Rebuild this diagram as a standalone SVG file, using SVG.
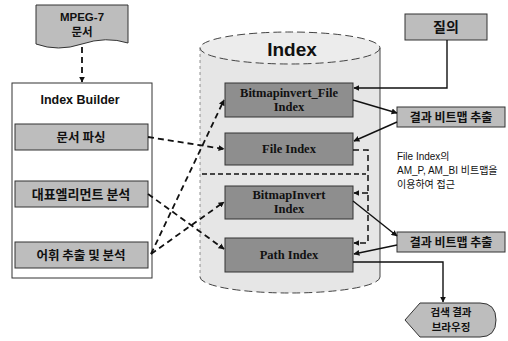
<svg xmlns="http://www.w3.org/2000/svg" width="508" height="341" viewBox="0 0 508 341">
  <style>
    .lbl { font-family: "Liberation Sans", "Noto Sans CJK KR", sans-serif; font-size: 11.5px; font-weight: bold; fill: #111; text-anchor: middle; }
    .ko  { font-family: "Noto Sans CJK KR", "Liberation Sans", sans-serif; font-size: 12.5px; font-weight: bold; fill: #111; text-anchor: middle; }
    .idx { font-family: "Liberation Serif", serif; font-size: 12.5px; font-weight: bold; fill: #111; text-anchor: middle; }
    .note { font-family: "Liberation Sans", "Noto Sans CJK KR", sans-serif; font-size: 10px; fill: #111; }
    .gbox { fill: #bdbdbd; stroke: #333; stroke-width: 1; }
    .dbox { fill: #8e8e8e; stroke: #333; stroke-width: 1; }
    .solid { fill: none; stroke: #111; stroke-width: 1.4; }
    .dash  { fill: none; stroke: #111; stroke-width: 1.8; stroke-dasharray: 6 4; }
  </style>
  <defs>
    <marker id="arrow" viewBox="0 0 10 10" refX="9" refY="5" markerWidth="6" markerHeight="6" orient="auto" markerUnits="userSpaceOnUse">
      <path d="M0,0 L10,5 L0,10 Z" fill="#111"/>
    </marker>
  </defs>

  <rect width="508" height="341" fill="#ffffff"/>

  <!-- source document -->
  <g id="mpeg7-doc">
    <path d="M36,5 H128 V43 Q106,36 82,44 Q58,52 36,44 Z" fill="#bdbdbd" stroke="#333" stroke-width="1"/>
    <text class="lbl" x="82" y="21">MPEG-7</text>
    <text class="ko" x="82" y="36" style="font-size:11.5px">문서</text>
  </g>

  <!-- index builder container -->
  <g id="index-builder">
    <rect x="12" y="83" width="140" height="195" fill="#ffffff" stroke="#333" stroke-width="1"/>
    <text class="lbl" x="80" y="104" style="font-size:12.5px">Index Builder</text>
  </g>
  <g id="doc-parsing">
    <rect class="gbox" x="15" y="124" width="133" height="26"/>
    <text class="ko" x="81" y="142">문서 파싱</text>
  </g>
  <g id="element-analysis">
    <rect class="gbox" x="15" y="181" width="133" height="26"/>
    <text class="ko" x="81" y="199" style="font-size:13px">대표엘리먼트 분석</text>
  </g>
  <g id="term-extraction">
    <rect class="gbox" x="15" y="242" width="133" height="26"/>
    <text class="ko" x="81" y="260">어휘 추출 및 분석</text>
  </g>

  <!-- index store (cylinder) -->
  <g id="index-store">
    <path d="M200,48 V277 A90,16 0 0 0 380,277 V48" fill="#e6e6e6" stroke="none"/>
    <ellipse cx="290" cy="48" rx="90" ry="16" fill="#ececec" stroke="#444" stroke-width="1" stroke-dasharray="8 4"/>
    <path d="M200,277 A90,16 0 0 0 380,277" fill="none" stroke="#444" stroke-width="1" stroke-dasharray="8 4"/>
    <line x1="200" y1="48" x2="200" y2="277" stroke="#777" stroke-width="0.8" stroke-dasharray="3 3"/>
    <line x1="380" y1="48" x2="380" y2="277" stroke="#444" stroke-width="1"/>
    <text x="292" y="56" style="font-family:'Liberation Sans',sans-serif;font-size:19px;font-weight:bold;fill:#111;text-anchor:middle">Index</text>
    <line x1="202" y1="174" x2="366" y2="174" stroke="#111" stroke-width="1.4" stroke-dasharray="5 3"/>
  </g>
  <g id="bitmapinvert-file-index">
    <rect class="dbox" x="225" y="83" width="128" height="34"/>
    <text class="idx" x="289" y="97">Bitmapinvert_File</text>
    <text class="idx" x="289" y="111">Index</text>
  </g>
  <g id="file-index">
    <rect class="dbox" x="225" y="133" width="128" height="32"/>
    <text class="idx" x="289" y="153">File Index</text>
  </g>
  <g id="bitmapinvert-index">
    <rect class="dbox" x="225" y="186" width="128" height="33"/>
    <text class="idx" x="289" y="199">BitmapInvert</text>
    <text class="idx" x="289" y="213">Index</text>
  </g>
  <g id="path-index">
    <rect class="dbox" x="225" y="238" width="128" height="34"/>
    <text class="idx" x="289" y="259">Path Index</text>
  </g>

  <!-- query side -->
  <g id="query">
    <rect class="gbox" x="405" y="14" width="82" height="26"/>
    <text class="ko" x="446" y="32" style="font-size:14px">질의</text>
  </g>
  <g id="bitmap-result-1">
    <rect class="gbox" x="397" y="107" width="108" height="20"/>
    <text class="ko" x="451" y="122" style="font-size:12px">결과 비트맵 추출</text>
  </g>
  <g id="bitmap-result-2">
    <rect class="gbox" x="397" y="232" width="108" height="20"/>
    <text class="ko" x="451" y="247" style="font-size:12px">결과 비트맵 추출</text>
  </g>
  <g id="access-note">
    <text class="note" x="397" y="160">File Index의</text>
    <text class="note" x="397" y="174">AM_P, AM_BI 비트맵을</text>
    <text class="note" x="397" y="188">이용하여 접근</text>
  </g>
  <g id="browse-results">
    <path d="M405,320 L420,303 H480 Q496,303 496,320 Q496,337 480,337 H420 Z" fill="#bdbdbd" stroke="#333" stroke-width="1"/>
    <text class="ko" x="451" y="316" style="font-size:10.5px">검색 결과</text>
    <text class="ko" x="451" y="331" style="font-size:10.5px">브라우징</text>
  </g>

  <!-- connectors -->
  <g id="connectors">
    <line class="dash" x1="82" y1="47" x2="82" y2="82" marker-end="url(#arrow)"/>
    <line class="dash" x1="148" y1="137" x2="224" y2="149" marker-end="url(#arrow)"/>
    <line class="dash" x1="148" y1="194" x2="224" y2="249" marker-end="url(#arrow)"/>
    <line class="dash" x1="151" y1="254" x2="224" y2="100" marker-end="url(#arrow)"/>
    <line class="dash" x1="151" y1="254" x2="224" y2="202" marker-end="url(#arrow)"/>

    <polyline class="solid" points="447,40 447,88 354,88" marker-end="url(#arrow)"/>
    <line class="solid" x1="353" y1="100" x2="397" y2="113" marker-end="url(#arrow)"/>
    <line class="solid" x1="397" y1="122" x2="354" y2="141" marker-end="url(#arrow)"/>
    <line class="solid" x1="353" y1="201" x2="397" y2="236" marker-end="url(#arrow)"/>
    <line class="solid" x1="397" y1="245" x2="354" y2="254" marker-end="url(#arrow)"/>
    <polyline class="solid" points="353,262 443,262 443,302" marker-end="url(#arrow)"/>

    <polyline class="dash" points="353,150 368,150 368,243 354,243" marker-end="url(#arrow)" style="stroke-width:1.5"/>
    <line class="dash" x1="368" y1="193" x2="354" y2="193" marker-end="url(#arrow)" style="stroke-width:1.5"/>
  </g>
</svg>
